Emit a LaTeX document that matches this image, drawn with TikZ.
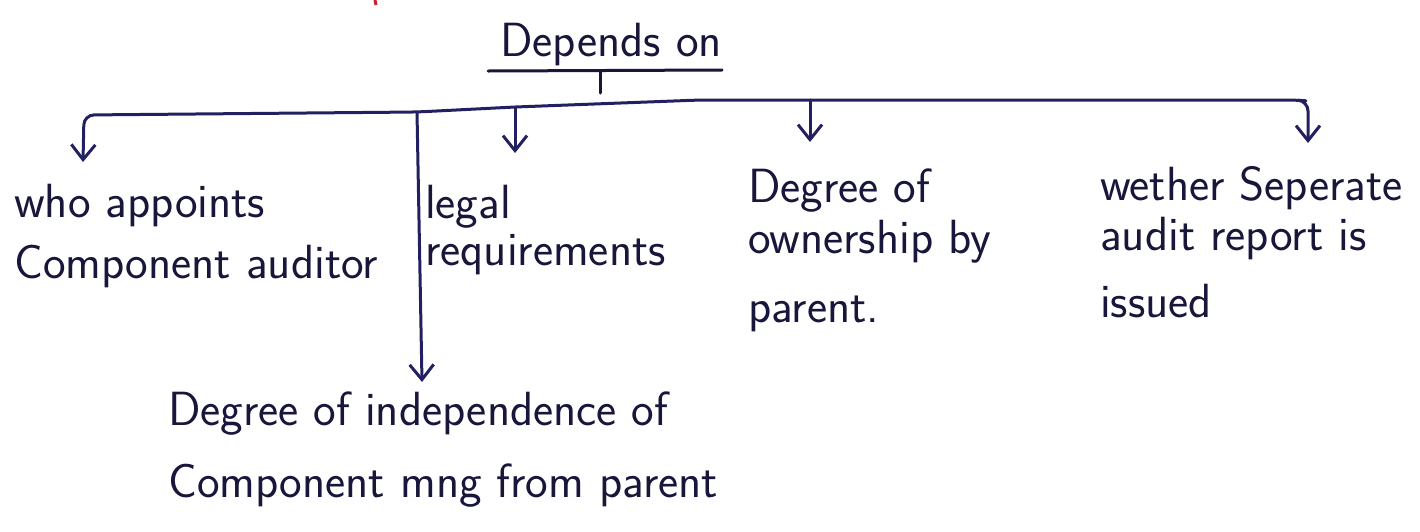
\documentclass[tikz,border=0pt]{standalone}
\usetikzlibrary{arrows.meta}
\definecolor{ink}{RGB}{24,22,58}
\definecolor{pen}{RGB}{34,32,96}
\definecolor{redpen}{RGB}{205,30,50}
\begin{document}
\begin{tikzpicture}[x=1pt,y=-1pt,
  % multi-line labels are placed by the baseline of their last line
  lbl/.style={font=\sffamily\fontsize{48}{50}\selectfont, text=ink, inner sep=0pt,
              anchor=base west, align=left},
  wire/.style={draw=pen, line width=3pt, line cap=round, line join=round},
  barb/.tip={Straight Barb[length=15pt,width=24pt]},
  tip/.style={-barb},
]
\useasboundingbox (0,0) rectangle (1420,531);

% stray red pen stroke at the top edge
\draw[redpen, line width=3pt] (375,0) -- (376,5);

% heading
\node[lbl] (root) at (500,56) {Depends on};
\coordinate (uL) at (488,71);
\coordinate (uR) at (722,70);
\coordinate (uT) at (600,71);
\coordinate (uB) at (600,93);
\draw[wire, draw=ink] (uL) -- (uR);
\draw[wire, draw=ink] (uT) -- (uB);

% the five factors
\node[lbl, font=\sffamily\fontsize{48}{61}\selectfont] (who) at (14,278)
  {who appoints\\Component auditor};
\node[lbl, font=\sffamily\fontsize{48}{47}\selectfont] (legal) at (425,265)
  {legal\\requirements};
\node[lbl, font=\sffamily\fontsize{48}{51}\selectfont] (own) at (748,322)
  {Degree of\\ownership by\\[18pt]parent.};
\node[lbl, font=\sffamily\fontsize{48}{50}\selectfont] (sep) at (1100,317)
  {wether Seperate\\audit report is\\[17pt]issued};
\node[lbl, font=\sffamily\fontsize{48}{72}\selectfont] (ind) at (168,497)
  {Degree of independence of\\Component mng from parent};

% junctions on the bar
\coordinate (jWho) at (84,115);
\coordinate (jInd) at (417,112);
\coordinate (jLeg) at (515,107);
\coordinate (jMid) at (700,100);
\coordinate (jOwn) at (810,100);
\coordinate (jBend) at (1296,100);
\coordinate (jSep) at (1308,101);

% arrow tips above the labels
\coordinate (tWho) at (83,162);
\coordinate (tInd) at (422,382);
\coordinate (tLeg) at (515,153);
\coordinate (tOwn) at (810,142);
\coordinate (tSep) at (1308,143);

% the bar with its two end arrows
\draw[wire, barb-barb, rounded corners=10pt]
  (tWho) -- (jWho) -- (jInd) -- (jLeg) -- (jMid) -- (jOwn) -- (jBend) -- (jSep) -- (tSep);

% branches down from the bar
\draw[wire, tip] (jInd) -- (tInd);
\draw[wire, tip] (jLeg) -- (tLeg);
\draw[wire, tip] (jOwn) -- (tOwn);
\end{tikzpicture}
\end{document}
